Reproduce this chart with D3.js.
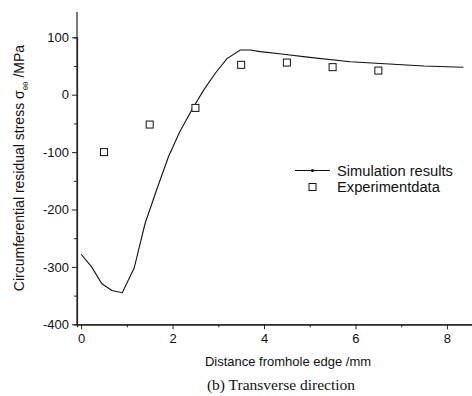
<!DOCTYPE html>
<html><head><meta charset="utf-8">
<script src="https://cdn.jsdelivr.net/npm/d3@7"></script>
<style>body{margin:0;background:#fff}svg{display:block}</style>
</head><body>
<svg id="c" width="472" height="396"></svg>
<script>
const simX = [0, 0.23, 0.45, 0.67, 0.9, 1.16, 1.4, 1.65, 1.91, 2.16, 2.46, 2.68, 2.93, 3.19, 3.48, 3.7, 3.92, 4.43, 5.0, 5.89, 6.83, 7.5, 8.36];
const simY = [-278, -300, -329, -341, -345, -302, -224, -166, -108, -64, -21, 8, 37, 63, 78, 78, 75, 70.5, 65, 57.5, 53, 50, 47.7];
const expX = [0.5, 1.5, 2.5, 3.5, 4.5, 5.5, 6.5];
const expY = [-100, -52, -23, 52, 56, 48, 42];
const xTicks = [0, 2, 4, 6, 8];
const yTicks = [100, 0, -100, -200, -300, -400];

const svg = d3.select("#c");
const x = d3.scaleLinear().domain([-0.09, 8.57]).range([77, 473]);
const y = d3.scaleLinear().domain([-400, 100]).range([324.3, 37.3]);
const font = "Arial, 'Liberation Sans', sans-serif";
const fmt = d => String(d);

// axes
const gx = svg.append("g").attr("transform", `translate(0,${y(-400)})`);
gx.call(d3.axisBottom(x).tickValues(xTicks).tickSize(5).tickSizeOuter(0).tickFormat(fmt));
gx.append("g").call(d3.axisBottom(x).tickValues([1,3,5,7]).tickSize(3).tickFormat(""));
const gy = svg.append("g").attr("transform", `translate(${x(-0.09)},0)`);
gy.call(d3.axisLeft(y).tickValues(yTicks).tickSize(5).tickSizeOuter(0).tickFormat(fmt));
gy.append("g").call(d3.axisLeft(y).tickValues([50,-50,-150,-250,-350]).tickSize(3).tickFormat(""));
gy.select(".domain").attr("d", `M0,12V${y(-400)}`);
svg.selectAll(".domain").attr("stroke","#222").attr("stroke-width",1.2);
svg.selectAll(".tick line").attr("stroke","#222");
svg.selectAll(".tick text").attr("font-family", font).attr("font-size", 13).attr("fill","#111");
gx.selectAll(".tick text").attr("dy","0.85em");

// simulation line
svg.append("path").datum(simX.map((v,i)=>[v, simY[i]]))
  .attr("fill","none").attr("stroke","#111").attr("stroke-width",1.1)
  .attr("d", d3.line().x(d=>x(d[0])).y(d=>y(d[1])).curve(d3.curveLinear));

// experiment squares
svg.selectAll("rect.e").data(expX.map((v,i)=>[v, expY[i]])).enter().append("rect")
  .attr("x", d=>x(d[0])-3.5).attr("y", d=>y(d[1])-3.5).attr("width",7).attr("height",7)
  .attr("fill","#fff").attr("stroke","#111").attr("stroke-width",1);

// legend
svg.append("line").attr("x1",295).attr("x2",330).attr("y1",170.5).attr("y2",170.5).attr("stroke","#111").attr("stroke-width",1.1);
svg.append("circle").attr("cx",312.5).attr("cy",170.5).attr("r",1.6).attr("fill","#111");
svg.append("text").attr("x",337).attr("y",175.5).attr("font-family",font).attr("font-size",14.7).attr("fill","#111").text("Simulation results");
svg.append("rect").attr("x",309).attr("y",183.5).attr("width",7).attr("height",7).attr("fill","#fff").attr("stroke","#111");
svg.append("text").attr("x",337).attr("y",191.5).attr("font-family",font).attr("font-size",14.7).attr("fill","#111").text("Experimentdata");

// axis titles
svg.append("text").attr("x",288).attr("y",366).attr("text-anchor","middle").attr("font-family",font).attr("font-size",13).attr("fill","#111").text("Distance fromhole edge /mm");
const yl = svg.append("text").attr("transform","translate(24,168) rotate(-90)").attr("text-anchor","middle")
  .attr("font-family",font).attr("font-size",14).attr("fill","#111");
yl.append("tspan").text("Circumferential residual stress σ");
yl.append("tspan").attr("font-size",8).attr("dy",4).text("θθ");
yl.append("tspan").attr("dy",-4).text(" /MPa");

svg.append("text").attr("x",281).attr("y",390).attr("text-anchor","middle").attr("font-family","'Liberation Serif', 'Times New Roman', serif").attr("font-size",15.5).attr("fill","#111").text("(b) Transverse direction");
</script>
</body></html>
